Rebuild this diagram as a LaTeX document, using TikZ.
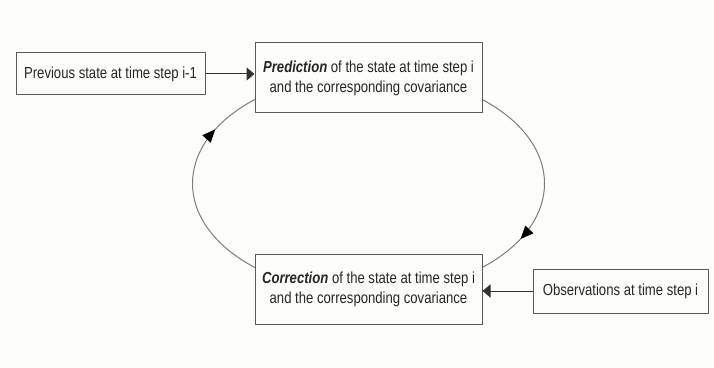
\documentclass[tikz,border=0pt]{standalone}
\usepackage{fontspec}
\setmainfont{Liberation Sans}[FakeStretch=0.82]
\usetikzlibrary{arrows.meta,decorations.markings,backgrounds,calc}
\definecolor{paper}{RGB}{253,253,250}
\definecolor{boxline}{RGB}{90,90,90}
\definecolor{loopline}{RGB}{125,125,125}
\tikzset{
  stepbox/.style={draw=boxline, line width=1pt, fill=paper, text=black!85, align=center, inner sep=2pt},
  looparrows/.style={postaction={decorate}, decoration={markings,
      mark=at position 0.434 with {\arrowreversed[black]{Triangle[length=13pt,width=11pt]}},
      mark=at position 0.932 with {\arrowreversed[black]{Triangle[length=13pt,width=11pt]}}}}
}
\begin{document}
\begin{tikzpicture}[x=1pt, y=1pt, font=\fontsize{16}{20}\selectfont, line join=round, >={Triangle[length=8pt,width=13pt]}]
		\useasboundingbox (0,0) rectangle (714,367);
		\node[stepbox, minimum width=189pt, minimum height=42pt] (prev) at (110.5,293) {Previous state at time step i-1};
		\node[stepbox, minimum width=227pt, minimum height=70pt] (pred) at (368.5,289) {\textbf{\textit{Prediction}} of the state at time step i\\and the corresponding covariance};
		\node[stepbox, minimum width=227pt, minimum height=70pt] (corr) at (368.5,78) {\textbf{\textit{Correction}} of the state at time step i\\and the corresponding covariance};
		\node[stepbox, minimum width=175pt, minimum height=44pt] (obs) at (620.5,76) {Observations at time step i};
		\draw[->, black!80, line width=1pt] (prev.east) -- (prev.east -| pred.west);
		\draw[->, black!80, line width=1pt] (obs.west) -- (obs.west -| corr.east);
		\begin{scope}[on background layer]
		\fill[paper] (0,0) rectangle (714,367);
		\draw[loopline, line width=1pt, looparrows] ($(pred)!0.5!(corr)$) ellipse (176 and 110);
		\end{scope}
\end{tikzpicture}
\end{document}
